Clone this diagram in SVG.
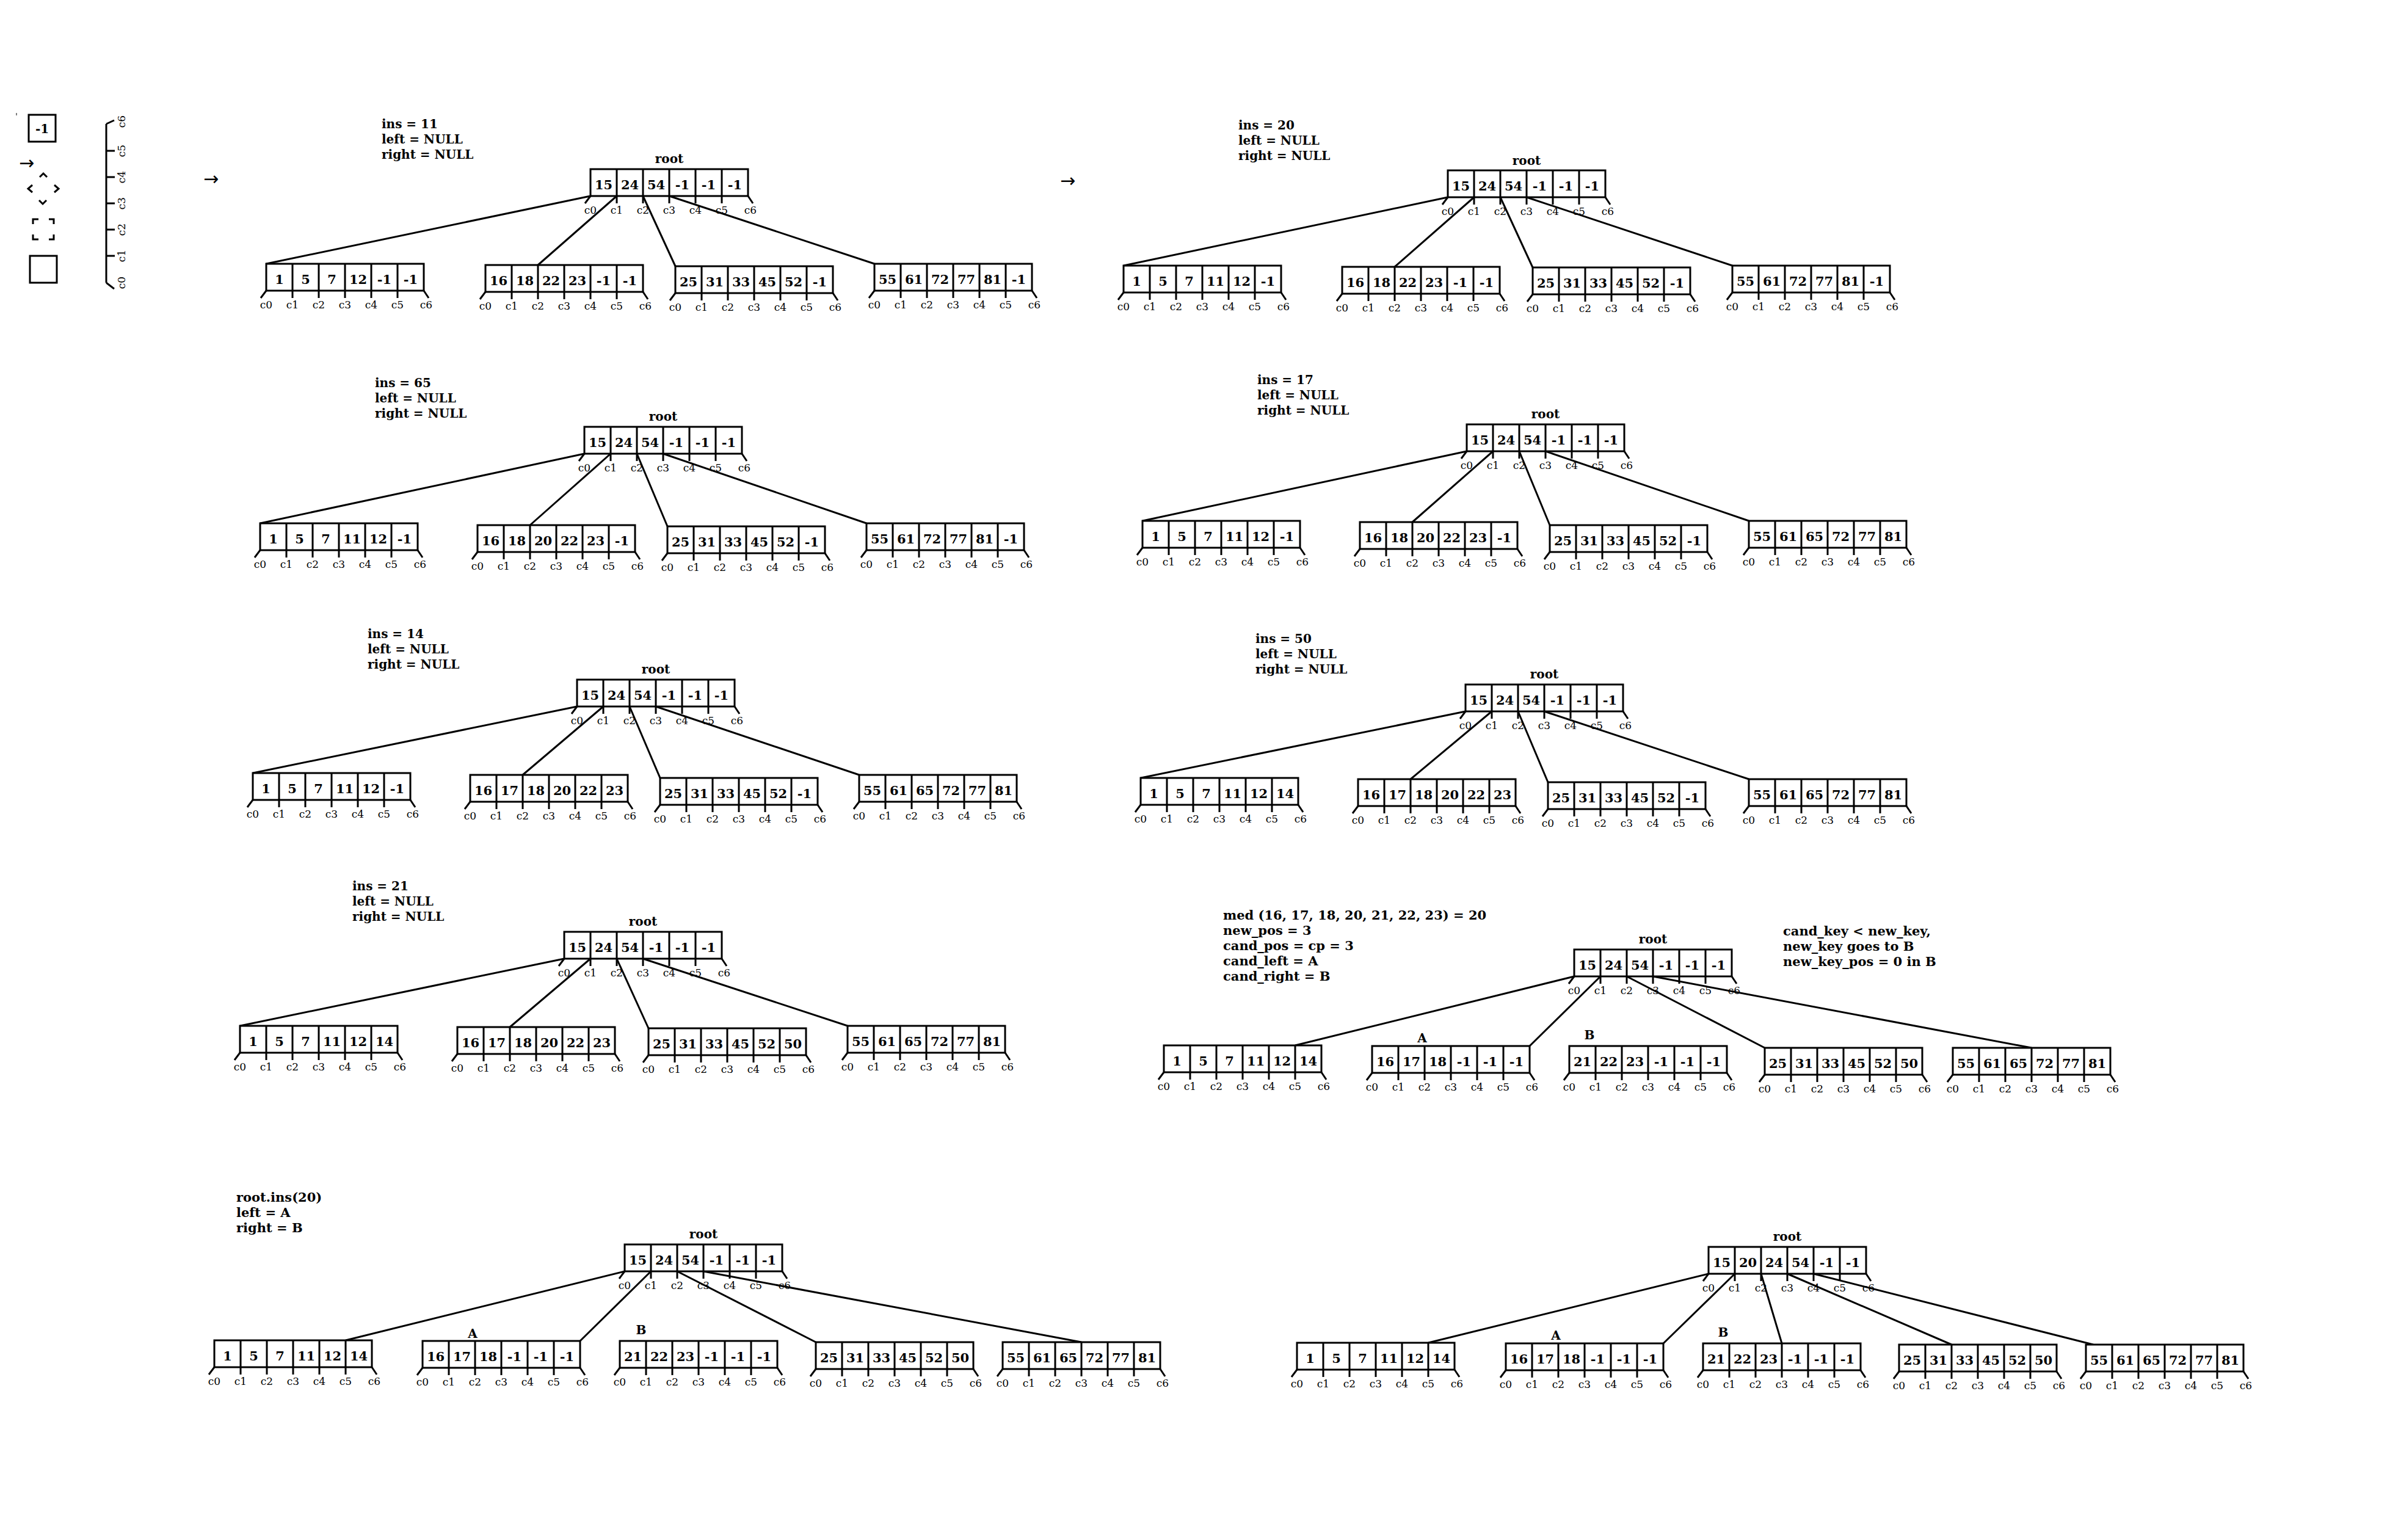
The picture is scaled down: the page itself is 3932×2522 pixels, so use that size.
<svg xmlns="http://www.w3.org/2000/svg" xmlns:xlink="http://www.w3.org/1999/xlink" width="3932" height="2522" viewBox="0 0 3932 2522">
<style>
.ln{stroke:#000;stroke-width:3;fill:none}
.bx{stroke:#000;stroke-width:3;fill:#fff}
.cn line{stroke:#000;stroke-width:3}
.cl{font-family:"DejaVu Serif",serif;font-size:17px;text-anchor:middle;fill:#000}
.v{font-family:"DejaVu Serif",serif;font-weight:bold;font-size:21px;text-anchor:middle;fill:#000}
.t{font-family:"DejaVu Serif",serif;font-weight:bold;font-size:20px;fill:#000}
.t2{font-family:"DejaVu Serif",serif;font-weight:bold;font-size:21px;fill:#000}
.r{font-family:"DejaVu Serif",serif;font-weight:bold;font-size:20px;text-anchor:middle;fill:#000}
.ar{font-family:"DejaVu Sans",sans-serif;font-size:30px;fill:#000}
</style>
<defs>
<g id="fr">
<rect x="0" y="0" width="258" height="44" class="bx"/>
<path class="ln" d="M43 0V44M86 0V44M129 0V44M172 0V44M215 0V44M0 44L-9 56M43 44V56M86 44V56M129 44V56M172 44V56M215 44V56M258 44L266 56"/>
<text class="cl" x="0" y="73">c0</text><text class="cl" x="43" y="73">c1</text><text class="cl" x="86" y="73">c2</text><text class="cl" x="129" y="73">c3</text><text class="cl" x="172" y="73">c4</text><text class="cl" x="215" y="73">c5</text><text class="cl" x="262" y="73">c6</text>
</g>
</defs>
<rect width="3932" height="2522" fill="#fff"/>

<g id="legend">
<line x1="27" y1="185" x2="27" y2="189" stroke="#000" stroke-width="1"/>
<rect x="47" y="188" width="44" height="44" class="bx"/>
<text class="r" x="69" y="218">-1</text>
<text class="ar" x="31" y="277">→</text>
<path class="ln" d="M65 290L71 284L77 290M53 303L46 309L53 315M89 303L96 309L89 315M64 328L70 334L76 328"/>
<path class="ln" d="M54 367V359H63M80 359H88V367M88 384V392H80M63 392H54V384"/>
<rect x="49" y="419" width="44" height="44" class="ln"/>
<path class="ln" d="M174 203V463M174 203L187 197M174 463L187 473M174 247H188M174 290H188M174 333H188M174 376H188M174 419H188"/>
<text class="cl" transform="translate(205 199) rotate(-90)">c6</text>
<text class="cl" transform="translate(205 247) rotate(-90)">c5</text>
<text class="cl" transform="translate(205 290) rotate(-90)">c4</text>
<text class="cl" transform="translate(205 333) rotate(-90)">c3</text>
<text class="cl" transform="translate(205 376) rotate(-90)">c2</text>
<text class="cl" transform="translate(205 419) rotate(-90)">c1</text>
<text class="cl" transform="translate(205 463) rotate(-90)">c0</text>
<text class="ar" x="333" y="303">→</text>
<text class="ar" x="1736" y="306">→</text>
</g>

<g id="labels">
<text class="t" x="625" y="210">ins = 11</text><text class="t" x="625" y="235">left = NULL</text><text class="t" x="625" y="260">right = NULL</text>
<text class="t" x="2028" y="212">ins = 20</text><text class="t" x="2028" y="237">left = NULL</text><text class="t" x="2028" y="262">right = NULL</text>
<text class="t" x="614" y="634">ins = 65</text><text class="t" x="614" y="659">left = NULL</text><text class="t" x="614" y="684">right = NULL</text>
<text class="t" x="2059" y="629">ins = 17</text><text class="t" x="2059" y="654">left = NULL</text><text class="t" x="2059" y="679">right = NULL</text>
<text class="t" x="602" y="1045">ins = 14</text><text class="t" x="602" y="1070">left = NULL</text><text class="t" x="602" y="1095">right = NULL</text>
<text class="t" x="2056" y="1053">ins = 50</text><text class="t" x="2056" y="1078">left = NULL</text><text class="t" x="2056" y="1103">right = NULL</text>
<text class="t" x="577" y="1458">ins = 21</text><text class="t" x="577" y="1483">left = NULL</text><text class="t" x="577" y="1508">right = NULL</text>
<text class="t2" x="2003" y="1506">med (16, 17, 18, 20, 21, 22, 23) = 20</text><text class="t2" x="2003" y="1531">new_pos = 3</text><text class="t2" x="2003" y="1556">cand_pos = cp = 3</text><text class="t2" x="2003" y="1581">cand_left = A</text><text class="t2" x="2003" y="1606">cand_right = B</text>
<text class="t2" x="2920" y="1532">cand_key &lt; new_key,</text><text class="t2" x="2920" y="1557">new_key goes to B</text><text class="t2" x="2920" y="1582">new_key_pos = 0 in B</text>
<text class="t2" x="387" y="1968">root.ins(20)</text><text class="t2" x="387" y="1993">left = A</text><text class="t2" x="387" y="2018">right = B</text>
<text class="r" x="1096" y="267">root</text>
<text class="r" x="2500" y="270">root</text>
<text class="r" x="1086" y="689">root</text>
<text class="r" x="2531" y="685">root</text>
<text class="r" x="1074" y="1103">root</text>
<text class="r" x="2529" y="1111">root</text>
<text class="r" x="1053" y="1516">root</text>
<text class="r" x="2707" y="1545">root</text>
<text class="r" x="1152" y="2028">root</text>
<text class="r" x="2927" y="2032">root</text>
<text class="r" x="2329" y="1707">A</text><text class="r" x="2603" y="1702">B</text>
<text class="r" x="774" y="2191">A</text><text class="r" x="1050" y="2185">B</text>
<text class="r" x="2548" y="2194">A</text><text class="r" x="2822" y="2189">B</text>
</g>

<g id="connectors" class="cn">
<line x1="967" y1="321" x2="436" y2="432"/><line x1="1010" y1="321" x2="881" y2="434"/><line x1="1053" y1="321" x2="1106" y2="436"/><line x1="1096" y1="321" x2="1432" y2="432"/>
<line x1="2371" y1="323" x2="1840" y2="435"/><line x1="2414" y1="323" x2="2284" y2="437"/><line x1="2457" y1="323" x2="2510" y2="438"/><line x1="2500" y1="323" x2="2837" y2="435"/>
<line x1="957" y1="743" x2="426" y2="857"/><line x1="1000" y1="743" x2="868" y2="860"/><line x1="1043" y1="743" x2="1093" y2="862"/><line x1="1086" y1="743" x2="1419" y2="857"/>
<line x1="2402" y1="739" x2="1871" y2="853"/><line x1="2445" y1="739" x2="2313" y2="855"/><line x1="2488" y1="739" x2="2538" y2="860"/><line x1="2531" y1="739" x2="2864" y2="853"/>
<line x1="945" y1="1157" x2="414" y2="1266"/><line x1="988" y1="1157" x2="856" y2="1269"/><line x1="1031" y1="1157" x2="1081" y2="1274"/><line x1="1074" y1="1157" x2="1407" y2="1269"/>
<line x1="2400" y1="1165" x2="1868" y2="1274"/><line x1="2443" y1="1165" x2="2310" y2="1276"/><line x1="2486" y1="1165" x2="2535" y2="1281"/><line x1="2529" y1="1165" x2="2864" y2="1276"/>
<line x1="924" y1="1570" x2="393" y2="1680"/><line x1="967" y1="1570" x2="835" y2="1682"/><line x1="1010" y1="1570" x2="1062" y2="1684"/><line x1="1053" y1="1570" x2="1388" y2="1680"/>
<line x1="2578" y1="1599" x2="2121" y2="1712"/><line x1="2621" y1="1599" x2="2505" y2="1713"/><line x1="2664" y1="1599" x2="2890" y2="1716"/><line x1="2707" y1="1599" x2="3327" y2="1716"/>
<line x1="1023" y1="2082" x2="566" y2="2195"/><line x1="1066" y1="2082" x2="950" y2="2196"/><line x1="1109" y1="2082" x2="1336" y2="2198"/><line x1="1152" y1="2082" x2="1771" y2="2198"/>
<line x1="2798" y1="2086" x2="2339" y2="2199"/><line x1="2841" y1="2086" x2="2724" y2="2200"/><line x1="2884" y1="2086" x2="2918" y2="2200"/><line x1="2927" y1="2086" x2="3196" y2="2202"/><line x1="2970" y1="2086" x2="3428" y2="2202"/>
</g>

<g id="a-root" transform="translate(967 277)"><use xlink:href="#fr"/><text class="v" y="33"><tspan x="21.5">15</tspan><tspan x="64.5">24</tspan><tspan x="107.5">54</tspan><tspan x="150.5">-1</tspan><tspan x="193.5">-1</tspan><tspan x="236.5">-1</tspan></text></g>
<g id="a-l1" transform="translate(436 432)"><use xlink:href="#fr"/><text class="v" y="33"><tspan x="21.5">1</tspan><tspan x="64.5">5</tspan><tspan x="107.5">7</tspan><tspan x="150.5">12</tspan><tspan x="193.5">-1</tspan><tspan x="236.5">-1</tspan></text></g>
<g id="a-l2" transform="translate(795 434)"><use xlink:href="#fr"/><text class="v" y="33"><tspan x="21.5">16</tspan><tspan x="64.5">18</tspan><tspan x="107.5">22</tspan><tspan x="150.5">23</tspan><tspan x="193.5">-1</tspan><tspan x="236.5">-1</tspan></text></g>
<g id="a-l3" transform="translate(1106 436)"><use xlink:href="#fr"/><text class="v" y="33"><tspan x="21.5">25</tspan><tspan x="64.5">31</tspan><tspan x="107.5">33</tspan><tspan x="150.5">45</tspan><tspan x="193.5">52</tspan><tspan x="236.5">-1</tspan></text></g>
<g id="a-l4" transform="translate(1432 432)"><use xlink:href="#fr"/><text class="v" y="33"><tspan x="21.5">55</tspan><tspan x="64.5">61</tspan><tspan x="107.5">72</tspan><tspan x="150.5">77</tspan><tspan x="193.5">81</tspan><tspan x="236.5">-1</tspan></text></g>

<g id="b-root" transform="translate(2371 279)"><use xlink:href="#fr"/><text class="v" y="33"><tspan x="21.5">15</tspan><tspan x="64.5">24</tspan><tspan x="107.5">54</tspan><tspan x="150.5">-1</tspan><tspan x="193.5">-1</tspan><tspan x="236.5">-1</tspan></text></g>
<g id="b-l1" transform="translate(1840 435)"><use xlink:href="#fr"/><text class="v" y="33"><tspan x="21.5">1</tspan><tspan x="64.5">5</tspan><tspan x="107.5">7</tspan><tspan x="150.5">11</tspan><tspan x="193.5">12</tspan><tspan x="236.5">-1</tspan></text></g>
<g id="b-l2" transform="translate(2198 437)"><use xlink:href="#fr"/><text class="v" y="33"><tspan x="21.5">16</tspan><tspan x="64.5">18</tspan><tspan x="107.5">22</tspan><tspan x="150.5">23</tspan><tspan x="193.5">-1</tspan><tspan x="236.5">-1</tspan></text></g>
<g id="b-l3" transform="translate(2510 438)"><use xlink:href="#fr"/><text class="v" y="33"><tspan x="21.5">25</tspan><tspan x="64.5">31</tspan><tspan x="107.5">33</tspan><tspan x="150.5">45</tspan><tspan x="193.5">52</tspan><tspan x="236.5">-1</tspan></text></g>
<g id="b-l4" transform="translate(2837 435)"><use xlink:href="#fr"/><text class="v" y="33"><tspan x="21.5">55</tspan><tspan x="64.5">61</tspan><tspan x="107.5">72</tspan><tspan x="150.5">77</tspan><tspan x="193.5">81</tspan><tspan x="236.5">-1</tspan></text></g>

<g id="c-root" transform="translate(957 699)"><use xlink:href="#fr"/><text class="v" y="33"><tspan x="21.5">15</tspan><tspan x="64.5">24</tspan><tspan x="107.5">54</tspan><tspan x="150.5">-1</tspan><tspan x="193.5">-1</tspan><tspan x="236.5">-1</tspan></text></g>
<g id="c-l1" transform="translate(426 857)"><use xlink:href="#fr"/><text class="v" y="33"><tspan x="21.5">1</tspan><tspan x="64.5">5</tspan><tspan x="107.5">7</tspan><tspan x="150.5">11</tspan><tspan x="193.5">12</tspan><tspan x="236.5">-1</tspan></text></g>
<g id="c-l2" transform="translate(782 860)"><use xlink:href="#fr"/><text class="v" y="33"><tspan x="21.5">16</tspan><tspan x="64.5">18</tspan><tspan x="107.5">20</tspan><tspan x="150.5">22</tspan><tspan x="193.5">23</tspan><tspan x="236.5">-1</tspan></text></g>
<g id="c-l3" transform="translate(1093 862)"><use xlink:href="#fr"/><text class="v" y="33"><tspan x="21.5">25</tspan><tspan x="64.5">31</tspan><tspan x="107.5">33</tspan><tspan x="150.5">45</tspan><tspan x="193.5">52</tspan><tspan x="236.5">-1</tspan></text></g>
<g id="c-l4" transform="translate(1419 857)"><use xlink:href="#fr"/><text class="v" y="33"><tspan x="21.5">55</tspan><tspan x="64.5">61</tspan><tspan x="107.5">72</tspan><tspan x="150.5">77</tspan><tspan x="193.5">81</tspan><tspan x="236.5">-1</tspan></text></g>

<g id="d-root" transform="translate(2402 695)"><use xlink:href="#fr"/><text class="v" y="33"><tspan x="21.5">15</tspan><tspan x="64.5">24</tspan><tspan x="107.5">54</tspan><tspan x="150.5">-1</tspan><tspan x="193.5">-1</tspan><tspan x="236.5">-1</tspan></text></g>
<g id="d-l1" transform="translate(1871 853)"><use xlink:href="#fr"/><text class="v" y="33"><tspan x="21.5">1</tspan><tspan x="64.5">5</tspan><tspan x="107.5">7</tspan><tspan x="150.5">11</tspan><tspan x="193.5">12</tspan><tspan x="236.5">-1</tspan></text></g>
<g id="d-l2" transform="translate(2227 855)"><use xlink:href="#fr"/><text class="v" y="33"><tspan x="21.5">16</tspan><tspan x="64.5">18</tspan><tspan x="107.5">20</tspan><tspan x="150.5">22</tspan><tspan x="193.5">23</tspan><tspan x="236.5">-1</tspan></text></g>
<g id="d-l3" transform="translate(2538 860)"><use xlink:href="#fr"/><text class="v" y="33"><tspan x="21.5">25</tspan><tspan x="64.5">31</tspan><tspan x="107.5">33</tspan><tspan x="150.5">45</tspan><tspan x="193.5">52</tspan><tspan x="236.5">-1</tspan></text></g>
<g id="d-l4" transform="translate(2864 853)"><use xlink:href="#fr"/><text class="v" y="33"><tspan x="21.5">55</tspan><tspan x="64.5">61</tspan><tspan x="107.5">65</tspan><tspan x="150.5">72</tspan><tspan x="193.5">77</tspan><tspan x="236.5">81</tspan></text></g>

<g id="e-root" transform="translate(945 1113)"><use xlink:href="#fr"/><text class="v" y="33"><tspan x="21.5">15</tspan><tspan x="64.5">24</tspan><tspan x="107.5">54</tspan><tspan x="150.5">-1</tspan><tspan x="193.5">-1</tspan><tspan x="236.5">-1</tspan></text></g>
<g id="e-l1" transform="translate(414 1266)"><use xlink:href="#fr"/><text class="v" y="33"><tspan x="21.5">1</tspan><tspan x="64.5">5</tspan><tspan x="107.5">7</tspan><tspan x="150.5">11</tspan><tspan x="193.5">12</tspan><tspan x="236.5">-1</tspan></text></g>
<g id="e-l2" transform="translate(770 1269)"><use xlink:href="#fr"/><text class="v" y="33"><tspan x="21.5">16</tspan><tspan x="64.5">17</tspan><tspan x="107.5">18</tspan><tspan x="150.5">20</tspan><tspan x="193.5">22</tspan><tspan x="236.5">23</tspan></text></g>
<g id="e-l3" transform="translate(1081 1274)"><use xlink:href="#fr"/><text class="v" y="33"><tspan x="21.5">25</tspan><tspan x="64.5">31</tspan><tspan x="107.5">33</tspan><tspan x="150.5">45</tspan><tspan x="193.5">52</tspan><tspan x="236.5">-1</tspan></text></g>
<g id="e-l4" transform="translate(1407 1269)"><use xlink:href="#fr"/><text class="v" y="33"><tspan x="21.5">55</tspan><tspan x="64.5">61</tspan><tspan x="107.5">65</tspan><tspan x="150.5">72</tspan><tspan x="193.5">77</tspan><tspan x="236.5">81</tspan></text></g>

<g id="f-root" transform="translate(2400 1121)"><use xlink:href="#fr"/><text class="v" y="33"><tspan x="21.5">15</tspan><tspan x="64.5">24</tspan><tspan x="107.5">54</tspan><tspan x="150.5">-1</tspan><tspan x="193.5">-1</tspan><tspan x="236.5">-1</tspan></text></g>
<g id="f-l1" transform="translate(1868 1274)"><use xlink:href="#fr"/><text class="v" y="33"><tspan x="21.5">1</tspan><tspan x="64.5">5</tspan><tspan x="107.5">7</tspan><tspan x="150.5">11</tspan><tspan x="193.5">12</tspan><tspan x="236.5">14</tspan></text></g>
<g id="f-l2" transform="translate(2224 1276)"><use xlink:href="#fr"/><text class="v" y="33"><tspan x="21.5">16</tspan><tspan x="64.5">17</tspan><tspan x="107.5">18</tspan><tspan x="150.5">20</tspan><tspan x="193.5">22</tspan><tspan x="236.5">23</tspan></text></g>
<g id="f-l3" transform="translate(2535 1281)"><use xlink:href="#fr"/><text class="v" y="33"><tspan x="21.5">25</tspan><tspan x="64.5">31</tspan><tspan x="107.5">33</tspan><tspan x="150.5">45</tspan><tspan x="193.5">52</tspan><tspan x="236.5">-1</tspan></text></g>
<g id="f-l4" transform="translate(2864 1276)"><use xlink:href="#fr"/><text class="v" y="33"><tspan x="21.5">55</tspan><tspan x="64.5">61</tspan><tspan x="107.5">65</tspan><tspan x="150.5">72</tspan><tspan x="193.5">77</tspan><tspan x="236.5">81</tspan></text></g>

<g id="g-root" transform="translate(924 1526)"><use xlink:href="#fr"/><text class="v" y="33"><tspan x="21.5">15</tspan><tspan x="64.5">24</tspan><tspan x="107.5">54</tspan><tspan x="150.5">-1</tspan><tspan x="193.5">-1</tspan><tspan x="236.5">-1</tspan></text></g>
<g id="g-l1" transform="translate(393 1680)"><use xlink:href="#fr"/><text class="v" y="33"><tspan x="21.5">1</tspan><tspan x="64.5">5</tspan><tspan x="107.5">7</tspan><tspan x="150.5">11</tspan><tspan x="193.5">12</tspan><tspan x="236.5">14</tspan></text></g>
<g id="g-l2" transform="translate(749 1682)"><use xlink:href="#fr"/><text class="v" y="33"><tspan x="21.5">16</tspan><tspan x="64.5">17</tspan><tspan x="107.5">18</tspan><tspan x="150.5">20</tspan><tspan x="193.5">22</tspan><tspan x="236.5">23</tspan></text></g>
<g id="g-l3" transform="translate(1062 1684)"><use xlink:href="#fr"/><text class="v" y="33"><tspan x="21.5">25</tspan><tspan x="64.5">31</tspan><tspan x="107.5">33</tspan><tspan x="150.5">45</tspan><tspan x="193.5">52</tspan><tspan x="236.5">50</tspan></text></g>
<g id="g-l4" transform="translate(1388 1680)"><use xlink:href="#fr"/><text class="v" y="33"><tspan x="21.5">55</tspan><tspan x="64.5">61</tspan><tspan x="107.5">65</tspan><tspan x="150.5">72</tspan><tspan x="193.5">77</tspan><tspan x="236.5">81</tspan></text></g>

<g id="h-root" transform="translate(2578 1555)"><use xlink:href="#fr"/><text class="v" y="33"><tspan x="21.5">15</tspan><tspan x="64.5">24</tspan><tspan x="107.5">54</tspan><tspan x="150.5">-1</tspan><tspan x="193.5">-1</tspan><tspan x="236.5">-1</tspan></text></g>
<g id="h-l1" transform="translate(1906 1712)"><use xlink:href="#fr"/><text class="v" y="33"><tspan x="21.5">1</tspan><tspan x="64.5">5</tspan><tspan x="107.5">7</tspan><tspan x="150.5">11</tspan><tspan x="193.5">12</tspan><tspan x="236.5">14</tspan></text></g>
<g id="h-a" transform="translate(2247 1713)"><use xlink:href="#fr"/><text class="v" y="33"><tspan x="21.5">16</tspan><tspan x="64.5">17</tspan><tspan x="107.5">18</tspan><tspan x="150.5">-1</tspan><tspan x="193.5">-1</tspan><tspan x="236.5">-1</tspan></text></g>
<g id="h-b" transform="translate(2570 1713)"><use xlink:href="#fr"/><text class="v" y="33"><tspan x="21.5">21</tspan><tspan x="64.5">22</tspan><tspan x="107.5">23</tspan><tspan x="150.5">-1</tspan><tspan x="193.5">-1</tspan><tspan x="236.5">-1</tspan></text></g>
<g id="h-l4" transform="translate(2890 1716)"><use xlink:href="#fr"/><text class="v" y="33"><tspan x="21.5">25</tspan><tspan x="64.5">31</tspan><tspan x="107.5">33</tspan><tspan x="150.5">45</tspan><tspan x="193.5">52</tspan><tspan x="236.5">50</tspan></text></g>
<g id="h-l5" transform="translate(3198 1716)"><use xlink:href="#fr"/><text class="v" y="33"><tspan x="21.5">55</tspan><tspan x="64.5">61</tspan><tspan x="107.5">65</tspan><tspan x="150.5">72</tspan><tspan x="193.5">77</tspan><tspan x="236.5">81</tspan></text></g>

<g id="i-root" transform="translate(1023 2038)"><use xlink:href="#fr"/><text class="v" y="33"><tspan x="21.5">15</tspan><tspan x="64.5">24</tspan><tspan x="107.5">54</tspan><tspan x="150.5">-1</tspan><tspan x="193.5">-1</tspan><tspan x="236.5">-1</tspan></text></g>
<g id="i-l1" transform="translate(351 2195)"><use xlink:href="#fr"/><text class="v" y="33"><tspan x="21.5">1</tspan><tspan x="64.5">5</tspan><tspan x="107.5">7</tspan><tspan x="150.5">11</tspan><tspan x="193.5">12</tspan><tspan x="236.5">14</tspan></text></g>
<g id="i-a" transform="translate(692 2196)"><use xlink:href="#fr"/><text class="v" y="33"><tspan x="21.5">16</tspan><tspan x="64.5">17</tspan><tspan x="107.5">18</tspan><tspan x="150.5">-1</tspan><tspan x="193.5">-1</tspan><tspan x="236.5">-1</tspan></text></g>
<g id="i-b" transform="translate(1015 2196)"><use xlink:href="#fr"/><text class="v" y="33"><tspan x="21.5">21</tspan><tspan x="64.5">22</tspan><tspan x="107.5">23</tspan><tspan x="150.5">-1</tspan><tspan x="193.5">-1</tspan><tspan x="236.5">-1</tspan></text></g>
<g id="i-l4" transform="translate(1336 2198)"><use xlink:href="#fr"/><text class="v" y="33"><tspan x="21.5">25</tspan><tspan x="64.5">31</tspan><tspan x="107.5">33</tspan><tspan x="150.5">45</tspan><tspan x="193.5">52</tspan><tspan x="236.5">50</tspan></text></g>
<g id="i-l5" transform="translate(1642 2198)"><use xlink:href="#fr"/><text class="v" y="33"><tspan x="21.5">55</tspan><tspan x="64.5">61</tspan><tspan x="107.5">65</tspan><tspan x="150.5">72</tspan><tspan x="193.5">77</tspan><tspan x="236.5">81</tspan></text></g>

<g id="j-root" transform="translate(2798 2042)"><use xlink:href="#fr"/><text class="v" y="33"><tspan x="21.5">15</tspan><tspan x="64.5">20</tspan><tspan x="107.5">24</tspan><tspan x="150.5">54</tspan><tspan x="193.5">-1</tspan><tspan x="236.5">-1</tspan></text></g>
<g id="j-l1" transform="translate(2124 2199)"><use xlink:href="#fr"/><text class="v" y="33"><tspan x="21.5">1</tspan><tspan x="64.5">5</tspan><tspan x="107.5">7</tspan><tspan x="150.5">11</tspan><tspan x="193.5">12</tspan><tspan x="236.5">14</tspan></text></g>
<g id="j-a" transform="translate(2466 2200)"><use xlink:href="#fr"/><text class="v" y="33"><tspan x="21.5">16</tspan><tspan x="64.5">17</tspan><tspan x="107.5">18</tspan><tspan x="150.5">-1</tspan><tspan x="193.5">-1</tspan><tspan x="236.5">-1</tspan></text></g>
<g id="j-b" transform="translate(2789 2200)"><use xlink:href="#fr"/><text class="v" y="33"><tspan x="21.5">21</tspan><tspan x="64.5">22</tspan><tspan x="107.5">23</tspan><tspan x="150.5">-1</tspan><tspan x="193.5">-1</tspan><tspan x="236.5">-1</tspan></text></g>
<g id="j-l4" transform="translate(3110 2202)"><use xlink:href="#fr"/><text class="v" y="33"><tspan x="21.5">25</tspan><tspan x="64.5">31</tspan><tspan x="107.5">33</tspan><tspan x="150.5">45</tspan><tspan x="193.5">52</tspan><tspan x="236.5">50</tspan></text></g>
<g id="j-l5" transform="translate(3416 2202)"><use xlink:href="#fr"/><text class="v" y="33"><tspan x="21.5">55</tspan><tspan x="64.5">61</tspan><tspan x="107.5">65</tspan><tspan x="150.5">72</tspan><tspan x="193.5">77</tspan><tspan x="236.5">81</tspan></text></g>
</svg>
